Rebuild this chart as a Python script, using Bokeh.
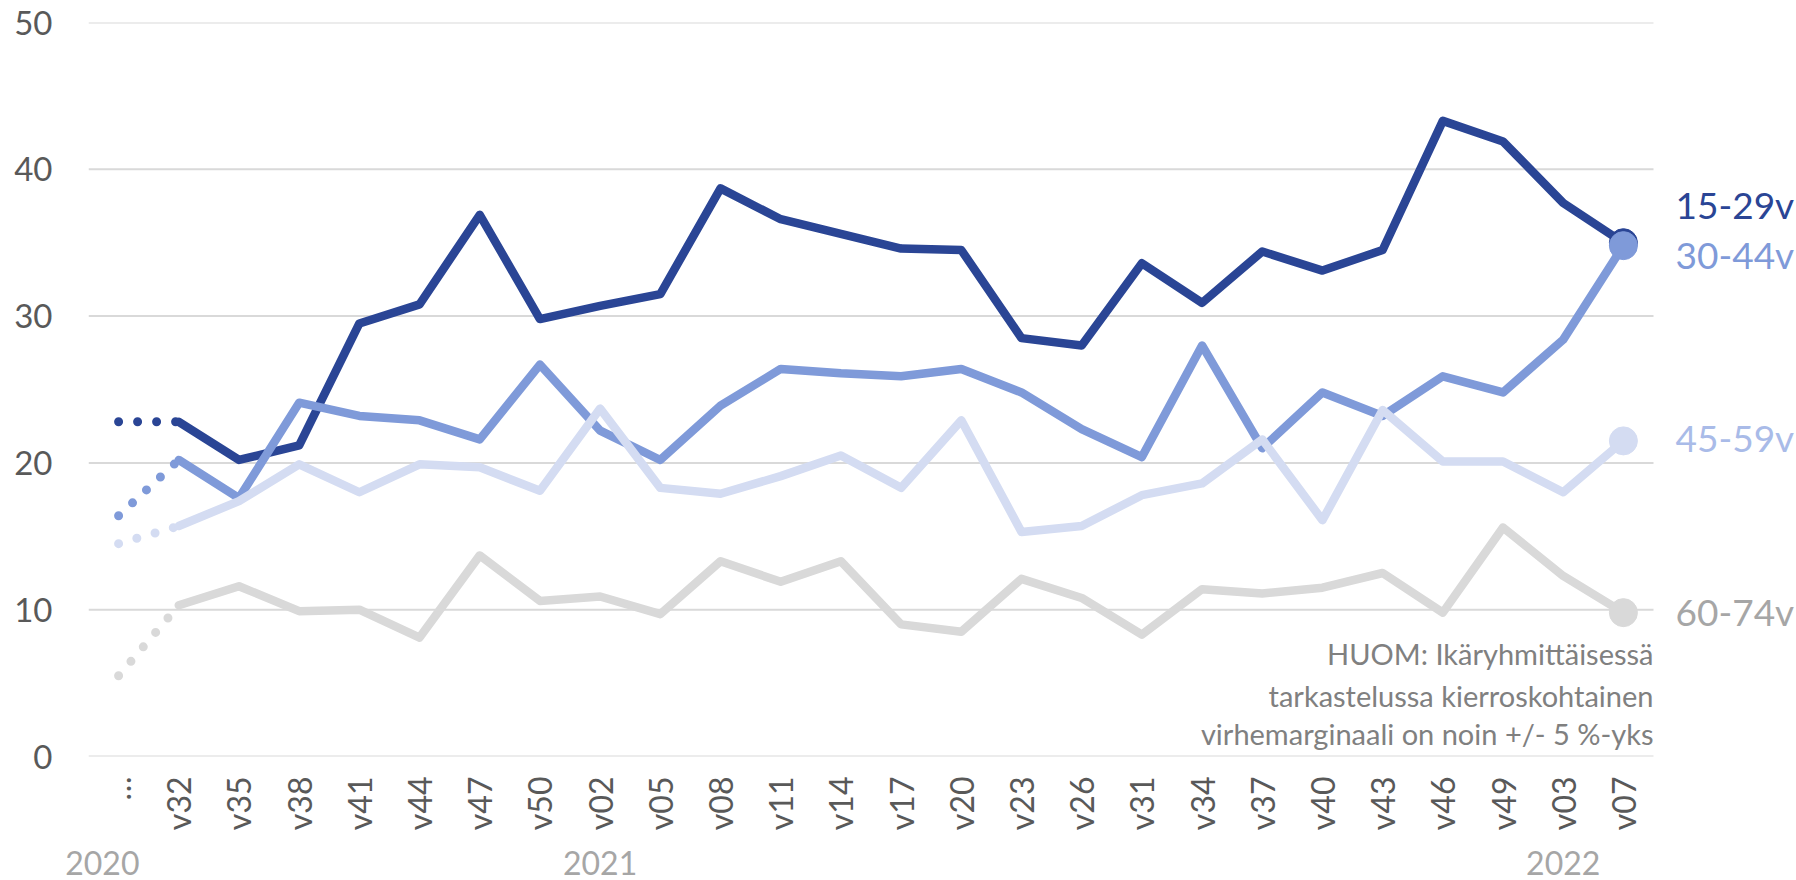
import math
from bokeh.plotting import figure
from bokeh.models import FixedTicker, Range1d, LinearAxis, ColumnDataSource
from bokeh.core.properties import value
from bokeh.embed import file_html
from bokeh.resources import INLINE

# ---- data ----
categories = ["…", "v32", "v35", "v38", "v41", "v44", "v47", "v50", "v02", "v05", "v08",
              "v11", "v14", "v17", "v20", "v23", "v26", "v31", "v34", "v37", "v40",
              "v43", "v46", "v49", "v03", "v07"]
series_names = ["15-29v", "30-44v", "45-59v", "60-74v"]
pre_1529 = 22.8
pre_3044 = 16.4
pre_4559 = 14.5
pre_6074 = 5.5
s_1529 = [22.8, 20.2, 21.2, 29.5, 30.8, 36.9, 29.8, 30.7, 31.5, 38.7, 36.6, 35.6, 34.6,
          34.5, 28.5, 28.0, 33.6, 30.9, 34.4, 33.1, 34.5, 43.3, 41.9, 37.7, 35.0]
s_3044 = [20.2, 17.6, 24.1, 23.2, 22.9, 21.6, 26.7, 22.2, 20.2, 23.9, 26.4, 26.1, 25.9,
          26.4, 24.8, 22.3, 20.4, 28.0, 21.0, 24.8, 23.2, 25.9, 24.8, 28.4, 34.8]
s_4559 = [15.7, 17.4, 19.9, 18.0, 19.9, 19.7, 18.1, 23.7, 18.3, 17.9, 19.1, 20.5, 18.3,
          22.9, 15.3, 15.7, 17.8, 18.6, 21.6, 16.1, 23.6, 20.1, 20.1, 18.0, 21.5]
s_6074 = [10.3, 11.6, 9.9, 10.0, 8.1, 13.7, 10.6, 10.9, 9.7, 13.3, 11.9, 13.3, 9.0,
          8.5, 12.1, 10.8, 8.3, 11.4, 11.1, 11.5, 12.5, 9.8, 15.6, 12.3, 9.8]
y_ticks = [0, 10, 20, 30, 40, 50]
years = ["2020", "2021", "2022"]
note_lines = ["HUOM: Ikäryhmittäisessä",
              "tarkastelussa kierroskohtainen",
              "virhemarginaali on noin +/- 5 %-yks"]

# ---- layout / style ----
FONT = "Lato"
W, H = 1796, 880
LEFT, TOP, BOTTOM = 88, 22, 124
CAT_RIGHT = 1653                      # pixel where the category area ends
n = len(categories)
x_end = n * (W - LEFT) / (CAT_RIGHT - LEFT)
xpos = [i + 0.5 for i in range(n)]
year_pos = [0.23, 8.5, 24.5]          # positions of the year captions
line_colors = ["#2a4595", "#7f9ad9", "#d4dcf2", "#d9d9d9"]
label_colors = ["#2a4595", "#7f9ad9", "#a9bbe8", "#a6a6a6"]
label_y = [37.6, 34.2, 21.7, 9.9]
note_y = [7.0, 4.15, 1.55]

p = figure(width=W, height=H, x_range=Range1d(0, x_end), y_range=Range1d(0, 50),
           output_backend="svg", toolbar_location=None, title=None,
           min_border_left=LEFT, min_border_right=0, min_border_top=TOP,
           min_border_bottom=BOTTOM)
p.outline_line_color = None
p.xgrid.grid_line_color = None
p.ygrid.grid_line_color = None

# horizontal gridlines limited to the category area
p.segment(x0=[0] * len(y_ticks), x1=[n] * len(y_ticks), y0=y_ticks, y1=y_ticks,
          line_color="#d9d9d9", line_width=2)

p.yaxis.ticker = FixedTicker(ticks=y_ticks)
p.yaxis.axis_line_color = None
p.yaxis.major_tick_line_color = None
p.yaxis.minor_tick_line_color = None
p.yaxis.major_tick_out = 0
p.yaxis.major_tick_in = 0
p.yaxis.major_label_standoff = 36
p.yaxis.major_label_text_font = FONT
p.yaxis.major_label_text_font_size = "33px"
p.yaxis.major_label_text_color = "#595959"

xa = p.xaxis[0]
xa.ticker = FixedTicker(ticks=xpos)
xa.major_label_overrides = {x: c for x, c in zip(xpos, categories)}
xa.axis_line_color = None
xa.major_tick_line_color = None
xa.minor_tick_line_color = None
xa.major_tick_out = 0
xa.major_tick_in = 0
xa.major_label_standoff = 20
xa.major_label_orientation = math.pi / 2
xa.major_label_text_font = FONT
xa.major_label_text_font_size = "32px"
xa.major_label_text_color = "#595959"

ya = LinearAxis(ticker=FixedTicker(ticks=year_pos),
                major_label_overrides={x: t for x, t in zip(year_pos, years)})
ya.axis_line_color = None
ya.major_tick_line_color = None
ya.minor_tick_line_color = None
ya.major_tick_out = 0
ya.major_tick_in = 0
ya.major_label_standoff = 17
ya.major_label_text_font = FONT
ya.major_label_text_font_size = "32px"
ya.major_label_text_color = "#a6a6a6"
p.add_layout(ya, "below")

all_series = [(pre_1529, s_1529), (pre_3044, s_3044), (pre_4559, s_4559), (pre_6074, s_6074)]
for (pre, vals), col in zip(all_series, line_colors):
    p.line(x=xpos[:2], y=[pre, vals[0]], line_color=col, line_width=9,
           line_dash="0 19", line_cap="round")
    p.line(x=xpos[1:], y=vals, line_color=col, line_width=8.5,
           line_join="round", line_cap="round")
    p.scatter(x=[xpos[-1]], y=[vals[-1]], size=28, marker="circle",
              fill_color=col, line_color=col)

lab_src = ColumnDataSource(dict(x=[n] * 4, y=label_y, text=series_names, color=label_colors))
p.text(x="x", y="y", text="text", source=lab_src, x_offset=22, text_color="color",
       text_font=value(FONT), text_font_size="37px", text_baseline="middle",
       text_align="left")

note_src = ColumnDataSource(dict(x=[n] * 3, y=note_y, text=note_lines))
p.text(x="x", y="y", text="text", source=note_src, text_color="#808080",
       text_font=value(FONT), text_font_size="29px", text_baseline="middle",
       text_align="right")

open("out.html", "w").write(file_html(p, INLINE))
